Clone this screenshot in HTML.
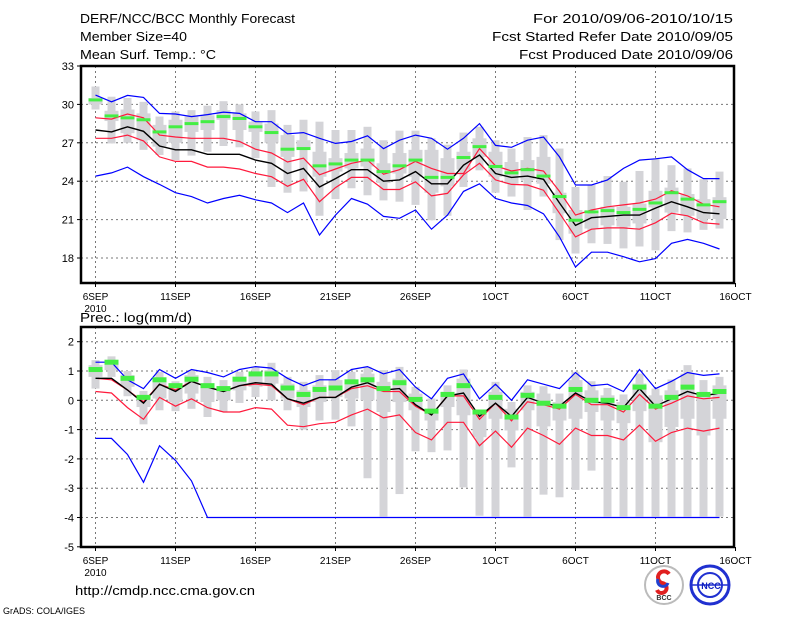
<!DOCTYPE html>
<html><head><meta charset="utf-8"><style>
body{margin:0;background:#fff;}
svg{display:block;font-family:"Liberation Sans",sans-serif;}
</style></head><body>
<svg id="c" width="800" height="618" xmlns="http://www.w3.org/2000/svg">
<text x="80" y="23" font-size="13" textLength="215" lengthAdjust="spacingAndGlyphs">DERF/NCC/BCC Monthly Forecast</text>
<text x="80" y="41" font-size="13" textLength="107" lengthAdjust="spacingAndGlyphs">Member Size=40</text>
<text x="80" y="59" font-size="13" textLength="136" lengthAdjust="spacingAndGlyphs">Mean Surf. Temp.: °C</text>
<text x="533" y="23" font-size="13" textLength="200" lengthAdjust="spacingAndGlyphs">For 2010/09/06-2010/10/15</text>
<text x="492" y="41" font-size="13" textLength="241" lengthAdjust="spacingAndGlyphs">Fcst Started Refer Date 2010/09/05</text>
<text x="519" y="59" font-size="13" textLength="214" lengthAdjust="spacingAndGlyphs">Fcst Produced Date 2010/09/06</text>
<text x="80" y="322" font-size="13" textLength="112" lengthAdjust="spacingAndGlyphs">Prec.: log(mm/d)</text>
<text x="75" y="595" font-size="13" textLength="180" lengthAdjust="spacingAndGlyphs">http://cmdp.ncc.cma.gov.cn</text>
<text x="3" y="614" font-size="9">GrADS: COLA/IGES</text>
<g>
<circle cx="664" cy="585" r="19" fill="#fff" stroke="#bbb" stroke-width="2"/>
<path d="M669 574 a6 6 0 1 0 -7 9 a5 5 0 1 1 -5 7" fill="none" stroke="#e02020" stroke-width="4"/>
<path d="M658 579 a5 5 0 1 0 10 4" fill="none" stroke="#2040d0" stroke-width="3"/>
<text x="664" y="600" font-size="7" text-anchor="middle" font-weight="bold" fill="#333">BCC</text>
</g>
<g>
<circle cx="710" cy="585" r="19" fill="#fff" stroke="#2030d0" stroke-width="3"/>
<circle cx="710" cy="585" r="12" fill="none" stroke="#2030d0" stroke-width="2"/>
<line x1="692" y1="585" x2="728" y2="585" stroke="#2030d0" stroke-width="1.5"/>
<text x="711" y="589" font-size="9" text-anchor="middle" font-weight="bold" fill="#1020c0">NCC</text>
</g>
</svg>
<script>
// ---- Temperature panel data (day index 0 = 6SEP) ----
const tBlueMax=[30.73,30.2,30.7,30.55,29.3,29.25,29.05,29.2,29.4,29.3,28.65,28.65,27.7,27.8,27.35,26.95,27.1,27.55,26.55,27.2,27.6,27.35,26.5,27.35,28.5,26.8,26.65,27.2,27.45,25.9,23.7,23.7,24.1,25.0,25.65,25.75,25.9,24.9,24.2,24.2];
const tBlueMin=[24.4,24.65,25.1,24.35,23.75,23.1,22.8,22.3,22.65,22.9,22.55,22.3,21.55,22.3,19.8,21.35,22.65,22.2,21.25,21.1,21.75,20.25,21.35,23.2,23.8,22.65,22.3,22.1,21.45,19.65,17.3,18.45,18.45,18.1,17.7,17.95,19.15,19.45,19.15,18.7];
const tRedUp=[28.95,28.85,29.25,28.95,27.6,27.45,27.35,27.35,27.35,27.1,26.5,26.2,25.5,25.8,24.5,24.95,25.4,25.65,24.55,24.9,25.55,25.0,24.6,24.6,26.55,25.2,24.8,25.0,24.8,23.2,21.35,21.75,22.0,22.15,22.3,22.6,23.25,22.85,22.2,22.0];
const tRedLo=[27.35,27.35,27.6,27.15,25.9,25.55,25.55,25.1,25.1,24.95,24.6,24.35,23.6,24.15,22.4,23.5,24.3,24.3,23.35,23.35,23.95,22.85,23.05,24.5,25.4,24.1,23.75,23.7,23.3,21.5,19.65,20.25,20.35,20.35,20.25,20.75,21.5,21.3,20.75,20.65];
const tMean=[28.0,27.85,28.25,27.9,26.75,26.45,26.45,26.1,26.1,26.1,25.65,25.4,24.6,25.0,23.55,24.2,24.9,24.9,24.0,24.1,24.75,23.8,23.8,25.25,26.05,24.6,24.3,24.4,24.15,22.3,20.55,21.15,21.25,21.35,21.35,21.9,22.4,22.0,21.55,21.45];
const tGreen=[30.35,29.1,28.95,28.8,27.85,28.25,28.5,28.65,29.05,28.9,28.25,27.8,26.5,26.55,25.2,25.35,25.65,25.65,24.75,25.2,25.65,24.3,24.3,25.85,26.7,25.15,24.65,24.9,24.4,22.8,20.95,21.6,21.7,21.55,21.8,22.3,23.1,22.6,22.15,22.4];
const tWhiskHi=[31.4,30.6,30.5,30.2,29.05,29.45,29.55,29.9,30.25,30.0,29.45,29.55,28.4,28.8,28.65,28.0,28.0,28.25,27.2,27.95,27.95,27.35,26.85,27.8,28.25,27.2,26.55,27.45,27.6,26.55,23.55,23.7,24.4,23.95,24.8,25.75,25.25,25.0,24.15,24.75];
const tWhiskLo=[29.6,26.95,27.0,26.45,26.05,25.65,26.0,26.3,26.75,26.65,25.8,23.55,23.1,23.2,21.3,22.6,23.45,22.9,22.5,22.4,22.15,20.95,21.3,23.55,24.85,23.1,22.8,21.75,22.8,19.4,18.35,19.15,19.1,18.75,18.9,18.6,20.1,20.0,20.2,20.3];
const tBoxHi=[30.5,29.5,29.6,29.3,28.4,28.8,29.05,29.15,29.55,29.3,28.65,28.5,27.6,27.2,26.3,25.8,26.2,26.55,25.4,26.2,26.45,26.45,25.8,26.3,27.35,26.3,25.5,25.65,25.9,23.1,21.75,21.45,22.0,22.0,22.25,23.25,23.5,23.0,22.6,22.75];
const tBoxLo=[30.0,28.7,27.75,27.2,26.7,27.0,27.85,28.0,28.8,28.0,27.85,27.0,25.9,26.55,24.35,24.75,25.0,25.15,23.85,24.6,24.35,23.1,23.6,24.9,25.9,24.35,23.8,24.1,23.8,21.5,19.9,20.3,20.55,20.45,20.7,21.95,21.55,21.3,21.05,21.05];
const tTicks=[18,21,24,27,30,33];
// ---- Precipitation panel data ----
const pBlueMax=[1.3,1.3,0.7,0.4,1.05,0.75,1.05,0.95,0.8,1.05,1.15,1.1,0.75,0.5,0.7,0.7,1.05,1.15,0.9,1.05,0.45,0.05,0.75,0.9,0.05,0.55,0.0,0.7,0.55,0.4,0.95,0.5,0.55,0.3,1.05,0.4,0.65,0.95,0.85,0.9];
const pBlueMin=[-1.3,-1.3,-1.85,-2.8,-1.55,-2.05,-2.75,-4,-4,-4,-4,-4,-4,-4,-4,-4,-4,-4,-4,-4,-4,-4,-4,-4,-4,-4,-4,-4,-4,-4,-4,-4,-4,-4,-4,-4,-4,-4,-4,-4];
const pRedUp=[0.75,0.7,0.35,-0.05,0.55,0.35,0.65,0.45,0.3,0.5,0.55,0.5,0.05,-0.15,0.1,0.1,0.4,0.5,0.3,0.3,-0.2,-0.5,0.15,0.15,-0.65,-0.1,-0.7,-0.05,-0.15,-0.3,0.2,-0.15,-0.15,-0.4,0.2,-0.3,-0.1,0.15,0.05,0.1];
const pRedLo=[0.3,0.25,-0.25,-0.65,0.1,-0.2,0.05,-0.25,-0.4,-0.4,-0.25,-0.3,-0.85,-0.9,-0.8,-0.75,-0.5,-0.3,-0.6,-0.5,-1.1,-1.35,-0.75,-0.75,-1.55,-1.05,-1.6,-0.95,-1.2,-1.5,-0.95,-1.2,-1.2,-1.35,-0.85,-1.4,-1.1,-0.95,-1.05,-0.95];
const pMean=[0.75,0.75,0.35,-0.1,0.55,0.3,0.65,0.45,0.3,0.5,0.6,0.55,0.05,-0.1,0.1,0.1,0.45,0.6,0.35,0.4,-0.15,-0.5,0.15,0.25,-0.55,-0.1,-0.55,0.1,-0.1,-0.2,0.25,-0.05,-0.1,-0.25,0.4,-0.2,0.05,0.3,0.15,0.25];
const pGreen=[1.05,1.3,0.75,0.1,0.7,0.5,0.72,0.5,0.4,0.72,0.9,0.9,0.42,0.2,0.37,0.42,0.63,0.7,0.4,0.6,0.03,-0.37,0.2,0.5,-0.4,0.1,-0.57,0.17,-0.1,-0.2,0.37,0.0,0.0,-0.25,0.45,-0.2,0.1,0.45,0.2,0.3];
const pWhiskHi=[1.37,1.5,1.0,0.32,0.97,0.65,1.03,0.8,0.69,0.97,1.14,1.28,0.8,0.63,0.86,1.03,0.97,1.14,1.03,1.14,0.46,0.06,0.51,1.05,-0.34,0.63,-0.06,0.51,0.48,0.23,0.97,0.65,0.42,0.2,0.91,0.4,0.71,1.2,0.69,0.8];
const pWhiskLo=[0.4,0.8,0.14,-0.82,-0.34,-0.37,-0.29,-0.57,-0.4,-0.09,0.11,0.0,-0.34,-1.0,-0.69,-0.66,-0.89,-2.66,-3.97,-3.2,-1.74,-1.77,-1.71,-2.97,-3.94,-3.97,-2.29,-3.97,-3.22,-3.31,-3.06,-2.4,-3.97,-3.97,-3.97,-3.97,-3.97,-3.97,-3.97,-3.97];
const pBoxHi=[1.2,1.37,0.86,0.14,0.69,0.46,0.86,0.46,0.46,0.8,0.91,1.03,0.57,0.34,0.51,0.69,0.69,0.91,0.63,0.74,0.23,-0.34,0.29,0.74,-0.34,0.29,-0.29,0.29,0.23,-0.06,0.69,0.34,0.17,-0.06,0.57,0.17,0.34,0.91,0.23,0.51];
const pBoxLo=[0.8,1.03,0.46,-0.23,0.06,-0.06,0.23,-0.06,0,0.34,0.46,0.57,0.06,-0.23,-0.06,0.11,0.06,0,-0.4,-0.06,-0.34,-0.69,-0.23,-0.51,-1.26,-0.63,-1.03,-0.34,-0.89,-0.69,-0.63,-0.4,-0.69,-0.78,-0.37,-1.43,-0.91,-0.63,-1.2,-0.63];
const pTicks=[-5,-4,-3,-2,-1,0,1,2];
const xLabels=["6SEP","11SEP","16SEP","21SEP","26SEP","1OCT","6OCT","11OCT","16OCT"];

const NS="http://www.w3.org/2000/svg";
const svg=document.getElementById('c');
function mk(tag,attrs,parent){const e=document.createElementNS(NS,tag);for(const k in attrs)e.setAttribute(k,attrs[k]);(parent||svg).appendChild(e);return e;}
const X0=81,X1=734;
function xs(i){return 95.5+16*i;}

function panel(cfg){
  const g=mk('g',{});
  
  
  const ys=cfg.ys;
  for(let k=0;k<xLabels.length;k++){
    const x=xs(k*5);
    if(x>X0+2&&x<X1-2){const l=mk('line',{x1:x,y1:cfg.top,x2:x,y2:cfg.bot,stroke:'#777','stroke-dasharray':'2,3','stroke-width':1},g);
      }
    const t=mk('text',{x:x,y:cfg.bot+17,'font-size':10,'text-anchor':'middle'},g);t.textContent=xLabels[k];
    
    mk('line',{x1:x,y1:cfg.bot,x2:x,y2:cfg.bot+4,stroke:'#000'},g);
  }
  const yr=mk('text',{x:xs(0),y:cfg.bot+29,'font-size':10,'text-anchor':'middle'},g);yr.textContent='2010';
  
  cfg.ticks.forEach(v=>{
    const y=ys(v);
    if(y>cfg.top+2&&y<cfg.bot-2){const l=mk('line',{x1:X0,y1:y,x2:X1,y2:y,stroke:'#777','stroke-dasharray':'2,3','stroke-width':1},g);
      }
    const t=mk('text',{x:74,y:y+4,'font-size':11,'text-anchor':'end'},g);t.textContent=v;
    
    mk('line',{x1:X0-4,y1:y,x2:X0,y2:y,stroke:'#000'},g);
  });
  for(let i=0;i<cfg.wh.length;i++){
    const x=xs(i);
    const w=mk('rect',{x:x-4,y:ys(cfg.wh[i]),width:8,height:Math.max(1,ys(cfg.wl[i])-ys(cfg.wh[i])),fill:'#d4d4d8'},g);
    
    const b=mk('rect',{x:x-7,y:ys(cfg.bh[i]),width:14,height:Math.max(1,ys(cfg.bl[i])-ys(cfg.bh[i])),fill:'#d4d4d8'},g);
    
  }
  const line=(arr,col,nm,w)=>{const p=mk('polyline',{points:arr.map((v,i)=>xs(i)+','+ys(v).toFixed(1)).join(' '),fill:'none',stroke:col,'stroke-width':w||1.2},g);
    };
  line(cfg.bmax,'#0000ff','blue-max-line');
  line(cfg.bmin,'#0000ff','blue-min-line');
  line(cfg.rup,'#ff1a3c','red-upper-line');
  line(cfg.rlo,'#ff1a3c','red-lower-line');
  line(cfg.mean,'#000','ensemble-mean-line',1.4);
  for(let i=0;i<cfg.gr.length;i++){
    const r=mk('rect',{x:xs(i)-7,y:ys(cfg.gr[i])-cfg.gh/2,width:14,height:cfg.gh,fill:'#44ee44'},g);
    
  }
  const f=mk('rect',{x:X0,y:cfg.top,width:X1-X0,height:cfg.bot-cfg.top,fill:'none',stroke:'#000','stroke-width':2.5},g);
  
}
panel({name:'temperature-panel',top:66,bot:283,ys:v=>66+(33-v)*12.8,ticks:tTicks,
  wh:tWhiskHi,wl:tWhiskLo,bh:tBoxHi,bl:tBoxLo,bmax:tBlueMax,bmin:tBlueMin,rup:tRedUp,rlo:tRedLo,mean:tMean,gr:tGreen,gh:3});
panel({name:'precipitation-panel',top:327,bot:547,ys:v=>400.3-v*29.3,ticks:pTicks,
  wh:pWhiskHi,wl:pWhiskLo,bh:pBoxHi,bl:pBoxLo,bmax:pBlueMax,bmin:pBlueMin,rup:pRedUp,rlo:pRedLo,mean:pMean,gr:pGreen,gh:5});
</script>
</body></html>
